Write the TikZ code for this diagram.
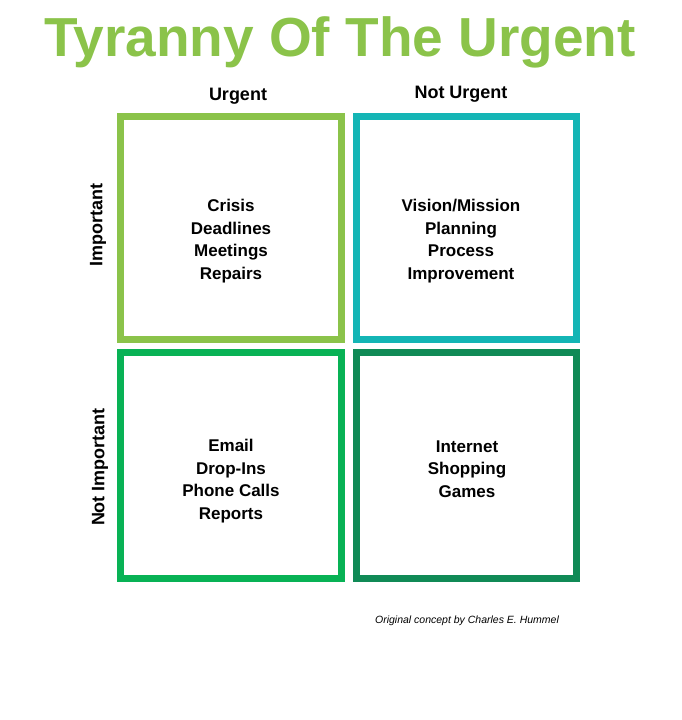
\documentclass[tikz,border=0pt]{standalone}
\usepackage{fontspec}
\setmainfont{Liberation Sans}
\usetikzlibrary{positioning}
\definecolor{lightgrn}{RGB}{139,195,74}
\definecolor{tealq}{RGB}{20,181,181}
\definecolor{midgrn}{RGB}{8,178,85}
\definecolor{darkgrn}{RGB}{16,138,86}
\begin{document}
\begin{tikzpicture}[x=1pt,y=-1pt,
  quad/.style={line width=7pt},
  head/.style={font=\bfseries\fontsize{18}{20}\selectfont},
  items/.style={font=\bfseries\fontsize{17}{22.5}\selectfont,align=center}]
			% Page
			\useasboundingbox (0,0) rectangle (682,720);
			\node[text=lightgrn,font=\bfseries\fontsize{55}{60}\selectfont] (title) at (340,42) {Tyranny Of The Urgent};
			
			% Quadrants
			\draw[quad,lightgrn] (120.5,116.5) rectangle (341.5,339.5);
			\draw[quad,tealq] (356.5,116.5) rectangle (576.5,339.5);
			\draw[quad,midgrn] (120.5,352.5) rectangle (341.5,578.5);
			\draw[quad,darkgrn] (356.5,352.5) rectangle (576.5,578.5);
			
			% Axis headings
			\node[head] (urg) at (238,96) {Urgent};
			\node[head] (nurg) at (461,94) {Not Urgent};
			\node[head,rotate=90] (imp) at (98,225) {Important};
			\node[head,rotate=90] (nimp) at (100,467) {Not Important};
			
			% Quadrant contents
			\node[items] (do) at (231,241) {Crisis\\Deadlines\\Meetings\\Repairs};
			\node[items] (plan) at (461,241) {Vision/Mission\\Planning\\Process\\Improvement};
			\node[items] (deleg) at (231,481) {Email\\Drop-Ins\\Phone Calls\\Reports};
			\node[items] (drop) at (467,469) {Internet\\Shopping\\Games};
			
			\node[font=\itshape\fontsize{10.5}{12}\selectfont] (credit) at (467,621) {Original concept by Charles E. Hummel};
		\end{tikzpicture}
\end{document}
